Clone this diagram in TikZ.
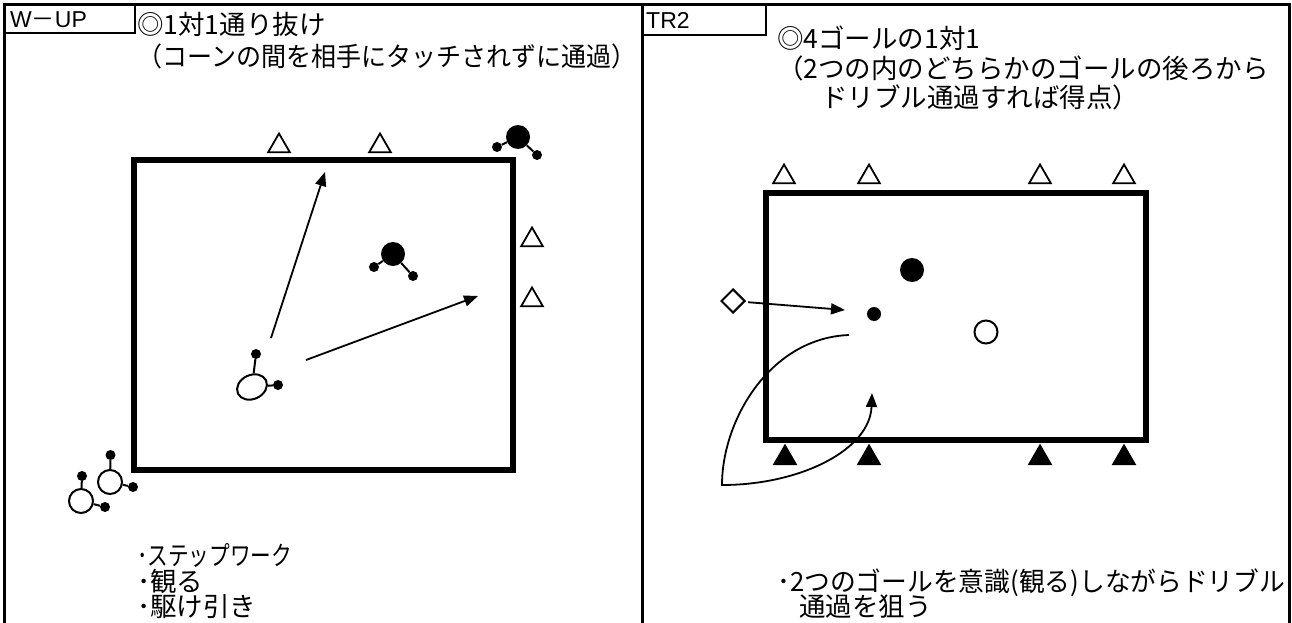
\documentclass[tikz,border=0pt]{standalone}
\usepackage{fontspec}
\setmainfont{Noto Sans CJK JP}
\newfontfamily\lat{Liberation Sans}
\usepackage{graphicx}
\usetikzlibrary{arrows.meta,shapes.geometric}
\tikzset{
  frameline/.style={line width=3pt},
  fieldline/.style={line width=5.5pt},
  txt/.style={anchor=west,inner sep=0pt,font=\fontsize{26.5}{26.5}\selectfont,text height=22pt,text depth=4pt},
  lbl/.style={anchor=west,inner sep=0pt,font=\fontsize{23}{23}\selectfont},
  cone/.style={draw,line width=1.8pt,regular polygon,regular polygon sides=3,minimum size=25pt,inner sep=0pt},
  bcone/.style={cone,fill=black},
  bigdot/.style={circle,fill=black,minimum size=24pt,inner sep=0pt},
  smalldot/.style={circle,fill=black,minimum size=10pt,inner sep=0pt},
  opencirc/.style={circle,draw,line width=2pt,minimum size=24pt,inner sep=0pt},
  limb/.style={line width=2pt},
  arr/.style={line width=1.8pt,-{Triangle[length=14pt,width=11pt]}},
}
\begin{document}
\begin{tikzpicture}[x=1pt,y=-1pt]
\useasboundingbox (0,0) rectangle (1292,623);
\clip (0,0) rectangle (1292,623);
% frame
\draw[frameline] (4,640) -- (4,5) -- (1289,5) -- (1289,640);
\draw[frameline] (642,5) -- (642,640);
\draw[line width=2.8pt] (5,5) rectangle (135,33);
\draw[line width=2.8pt] (642,5) rectangle (766,35);
\node[lbl] (wup) at (10,20) {\lat W\rmfamily －\lat UP};
\node[lbl] (tr2) at (646,20) {\lat TR2};
% titles
\node[txt] (l1) at (137,26) {◎1対1通り抜け};
\node[txt] (l2) at (137,58) {\resizebox{499pt}{\height}{（コーンの間を相手にタッチされずに通過）}};
\node[txt] (r1) at (777,40) {◎4ゴールの1対1};
\node[txt] (r2) at (777,70) {（2つの内のどちらかのゴールの後ろから};
\node[txt] (r3) at (821,98) {ドリブル通過すれば得点）};
% bottom texts
\node[txt] (lb1) at (137,556) {\resizebox{155pt}{\height}{･ステップワーク}};
\node[txt] (lb2) at (137,582) {･観る};
\node[txt] (lb3) at (137,607) {･駆け引き};
\node[txt] (rb1) at (777,582) {\resizebox{508pt}{\height}{･2つのゴールを意識(観る)しながらドリブル}};
\node[txt] (rb2) at (799,607) {通過を狙う};
% ---------- left field ----------
\draw[fieldline] (134,160) rectangle (513,470);
\node[cone] (c1) at (279,146) {};
\node[cone] (c2) at (380,146) {};
\node[cone] (c3) at (532,240) {};
\node[cone] (c4) at (532,300) {};
% black player top right
\node[bigdot] (b1) at (518,137) {};
\node[smalldot] (b1l) at (497,147) {};
\node[smalldot] (b1r) at (537,155) {};
\draw[limb] (b1) -- (b1l);
\draw[limb] (b1) -- (b1r);
% black player middle
\node[bigdot] (b2) at (393,254) {};
\node[smalldot] (b2l) at (374,267) {};
\node[smalldot] (b2r) at (413,276) {};
\draw[limb] (b2) -- (b2l);
\draw[limb] (b2) -- (b2r);
% open player with ball
\node[ellipse,draw,line width=2pt,minimum width=31pt,minimum height=24pt,inner sep=0pt,rotate=25] (w1) at (252,387) {};
\node[smalldot] (w1t) at (256,354) {};
\node[smalldot] (w1r) at (278,385) {};
\draw[limb] (w1) -- (w1t);
\draw[limb] (w1) -- (w1r);
% arrows
\coordinate (a1s) at (271,338);
\coordinate (a1e) at (325,172);
\coordinate (a2s) at (306,360);
\coordinate (a2e) at (478,296);
\draw[arr] (a1s) -- (a1e);
\draw[arr] (a2s) -- (a2e);
% waiting players bottom left
\node[opencirc] (w2) at (110,482) {};
\node[smalldot] (w2t) at (110.5,455) {};
\node[smalldot] (w2r) at (133,487) {};
\draw[limb] (w2) -- (w2t);
\draw[limb] (w2) -- (w2r);
\node[opencirc] (w3) at (81,501) {};
\node[smalldot] (w3t) at (82,476) {};
\node[smalldot] (w3r) at (105,507) {};
\draw[limb] (w3) -- (w3t);
\draw[limb] (w3) -- (w3r);
% ---------- right field ----------
\draw[fieldline] (766,193) rectangle (1146,440);
\node[cone] (t1) at (784,177) {};
\node[cone] (t2) at (869,177) {};
\node[cone] (t3) at (1040,177) {};
\node[cone] (t4) at (1124,177) {};
\node[bcone] (s1) at (785,458) {};
\node[bcone] (s2) at (869,458) {};
\node[bcone] (s3) at (1040,458) {};
\node[bcone] (s4) at (1124,458) {};
\node[bigdot] (def) at (912,270) {};
\node[circle,fill=black,minimum size=14pt,inner sep=0pt] (ball) at (874,314) {};
\node[opencirc,minimum size=23pt] (att) at (986,332) {};
\node[diamond,draw,line width=2pt,minimum width=24pt,minimum height=24pt,inner sep=0pt] (dia) at (733,301) {};
\coordinate (pe) at (845,310);
\draw[arr,shorten <=3pt] (dia) -- (pe);
\coordinate (q0) at (849,335);
\coordinate (q1) at (722,485);
\coordinate (q2) at (872,393);
\draw[line width=1.8pt,-{Triangle[length=14pt,width=11pt]}] (q0) .. controls (770,338) and (722,420) .. (q1) .. controls (800,485) and (870,450) .. (q2);
\end{tikzpicture}
\end{document}
